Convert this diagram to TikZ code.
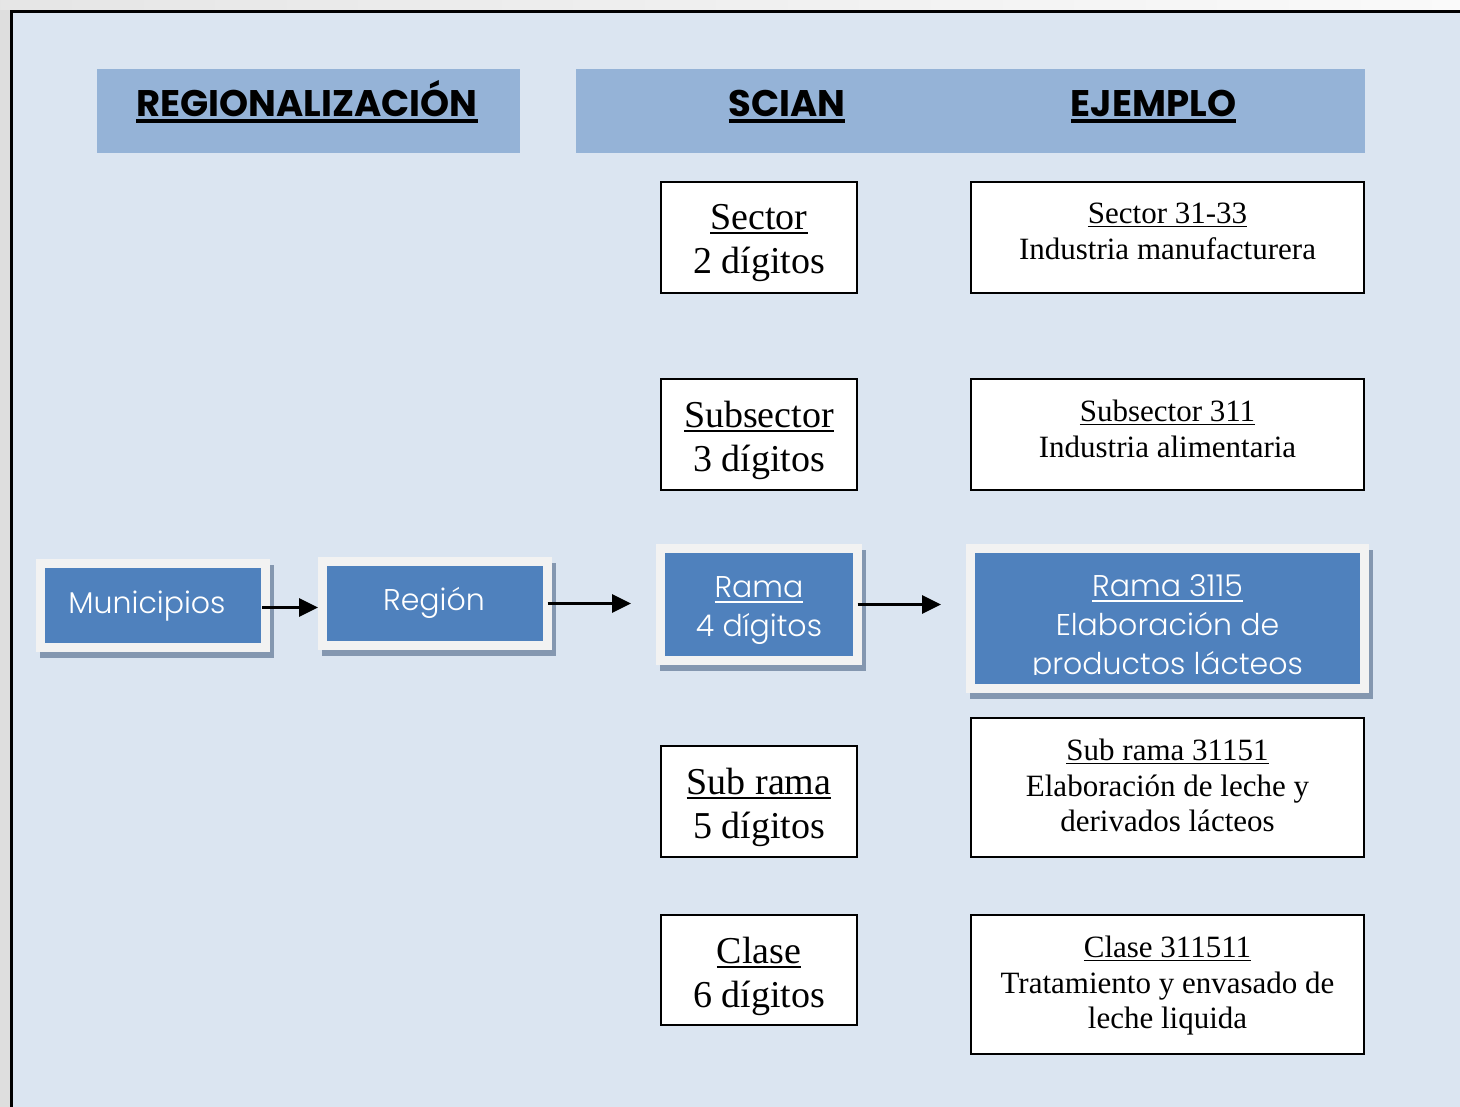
\documentclass[tikz,border=0pt]{standalone}
\usepackage{fontspec}
\usetikzlibrary{arrows.meta}
\setmainfont{Liberation Serif}
\newfontfamily\gothic{Poppins}[UprightFont=* Light, BoldFont=* Bold]

\definecolor{panel}{HTML}{DBE5F1}
\definecolor{hdrblue}{HTML}{95B3D7}
\definecolor{boxblue}{HTML}{4F81BD}
\definecolor{rim}{HTML}{F2F2F2}
\definecolor{shade}{HTML}{8497B0}
\definecolor{sidegray}{HTML}{DEDEDE}

% underlined text: #1 gap below baseline, #2 rule thickness, #3 text
\newcommand\ulbox[3]{\vtop{\setbox0\hbox{#3}\dp0=0pt\box0\kern#1\hrule height#2}}

\tikzset{
  hdr/.style={fill=hdrblue, draw=none, inner sep=0pt, outer sep=0pt},
  htxt/.style={inner sep=0pt, anchor=base, font=\gothic\bfseries\fontsize{18.5}{22}\selectfont},
  wbox/.style={fill=white, draw=black, line width=1pt, inner sep=0pt, outer sep=0pt},
  stxt/.style={inner sep=0pt, anchor=north, align=center, font=\fontsize{19}{22}\selectfont},
  etxt/.style={inner sep=0pt, anchor=north, align=center, font=\fontsize{15.5}{17.7}\selectfont},
  bluebox/.style={fill=boxblue, draw=rim, line width=4.5pt, inner sep=0pt, outer sep=0pt,
    preaction={fill=shade, draw=shade, transform canvas={shift={(1.75pt,-3pt)}}}},
  btxt/.style={inner sep=0pt, align=center, text=white, font=\gothic\fontsize{15}{19.5}\selectfont},
  arr/.style={line width=1.6pt, -{Triangle[length=9.5pt,width=9pt]}},
}

\begin{document}
\begin{tikzpicture}[x=0.5pt,y=-0.5pt]
\useasboundingbox (0,0) rectangle (1460,1107);

% window backdrop and framed panel
\fill[sidegray] (0,0) rectangle (1460,1107);
\shade[left color=black!10, right color=black!2] (0,0) rectangle (1460,10);
\fill[panel] (10,10) rectangle (1470,1117);
\draw[line width=1.35pt] (11.35,1117) -- (11.35,11.35) -- (1470,11.35);

% column headers
\node[hdr, minimum width=211.5pt, minimum height=42pt] (hreg) at (308.5,111) {};
\node[hdr, minimum width=394.5pt, minimum height=42pt] (hsci) at (970.5,111) {};
\node[htxt] (treg) at (307,117) {\ulbox{1.2pt}{1.7pt}{REGIONALIZACIÓN}};
\node[htxt] (tsci) at (787,117) {\ulbox{1.2pt}{1.7pt}{SCIAN}};
\node[htxt] (teje) at (1153.5,117) {\ulbox{1.2pt}{1.7pt}{EJEMPLO}};

% SCIAN levels
\node[wbox, minimum width=98pt, minimum height=55.5pt] (sec) at (759,237.5) {};
\node[stxt] (sect) at ([yshift=-11pt]sec.north) {\ulbox{1.2pt}{1pt}{Sector}\\2 dígitos};
\node[wbox, minimum width=98pt, minimum height=55.5pt] (sub) at (759,434.5) {};
\node[stxt] (subt) at ([yshift=-11pt]sub.north) {\ulbox{1.2pt}{1pt}{Subsector}\\3 dígitos};
\node[wbox, minimum width=98pt, minimum height=55.5pt] (srm) at (759,801.5) {};
\node[stxt] (srmt) at ([yshift=-11pt]srm.north) {\ulbox{1.2pt}{1pt}{Sub rama}\\5 dígitos};
\node[wbox, minimum width=98pt, minimum height=55pt] (cla) at (759,970) {};
\node[stxt] (clat) at ([yshift=-11pt]cla.north) {\ulbox{1.2pt}{1pt}{Clase}\\6 dígitos};

% examples
\node[wbox, minimum width=196.5pt, minimum height=55.5pt] (esec) at (1167.5,237.5) {};
\node[etxt] (esect) at ([yshift=-10.5pt]esec.north) {\ulbox{0.9pt}{0.8pt}{Sector 31-33}\\Industria manufacturera};
\node[wbox, minimum width=196.5pt, minimum height=55.5pt] (esub) at (1167.5,434.5) {};
\node[etxt] (esubt) at ([yshift=-10.5pt]esub.north) {\ulbox{0.9pt}{0.8pt}{Subsector 311}\\Industria alimentaria};
\node[wbox, minimum width=196.5pt, minimum height=69.5pt] (esrm) at (1167.5,787.5) {};
\node[etxt] (esrmt) at ([yshift=-10.5pt]esrm.north) {\ulbox{0.9pt}{0.8pt}{Sub rama 31151}\\Elaboración de leche y\\derivados lácteos};
\node[wbox, minimum width=196.5pt, minimum height=69.5pt] (ecla) at (1167.5,984.5) {};
\node[etxt] (eclat) at ([yshift=-10.5pt]ecla.north) {\ulbox{0.9pt}{0.8pt}{Clase 311511}\\Tratamiento y envasado de\\leche liquida};

% highlighted path
\node[bluebox, minimum width=112.5pt, minimum height=42pt] (mun) at (153,605.5) {};
\node[btxt, anchor=base] (munt) at (147,613) {Municipios};
\node[bluebox, minimum width=112.5pt, minimum height=42pt] (reg) at (435,603.5) {};
\node[btxt, anchor=base] (regt) at (434,610) {Región};
\node[bluebox, minimum width=98.5pt, minimum height=56pt] (ram) at (759,604.5) {};
\node[btxt, anchor=north] (ramt) at (759,576) {\ulbox{1.7pt}{1pt}{Rama}\\4 dígitos};
\node[bluebox, minimum width=197pt, minimum height=70pt] (rex) at (1167.5,618.5) {};
\begin{scope}
  \clip (975,553) rectangle (1360,674);
  \node[btxt, anchor=north] (rext) at (1167.5,574) {\ulbox{1.7pt}{1pt}{Rama 3115}\\Elaboración de\\productos lácteos};
\end{scope}

% connectors
\draw[arr, shorten <=-1.75pt, shorten >=2.25pt] ([yshift=-1pt]mun.east) -- ([yshift=-1pt]mun.east -| reg.west);
\draw[arr, shorten >=14.75pt] (reg.east) -- (reg.east -| ram.west);
\draw[arr, shorten >=14.75pt] (ram.east) -- (ram.east -| rex.west);
\end{tikzpicture}
\end{document}
